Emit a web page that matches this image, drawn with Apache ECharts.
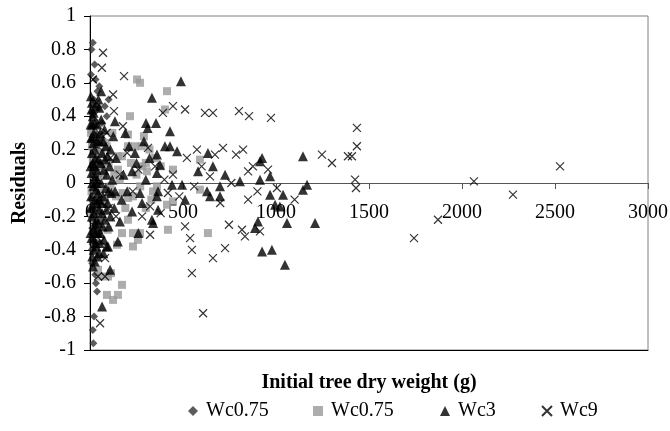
<!DOCTYPE html>
<html>
<head>
<meta charset="utf-8">
<script src="https://cdn.jsdelivr.net/npm/echarts@6/dist/echarts.min.js"></script>
<style>html,body{margin:0;padding:0;background:#fff}#c{width:670px;height:431px}</style>
</head>
<body>
<div id="c"></div>
<script>
const seriesNames = ['Wc0.75', 'Wc0.75', 'Wc3', 'Wc9'];
const xTicks = [0, 500, 1000, 1500, 2000, 2500, 3000];
const yTicks = [-1, -0.8, -0.6, -0.4, -0.2, 0, 0.2, 0.4, 0.6, 0.8, 1];

const diamondPts = [
  [15,0.84],[8,0.80],[25,0.71],[50,0.58],[40,0.55],[80,0.46],[65,0.36],[30,0.62],[20,0.50],[10,0.42],
  [35,0.30],[5,0.25],[45,0.20],[15,0.12],[55,0.05],[25,-0.02],[8,-0.10],[40,-0.15],[60,-0.22],[20,-0.28],
  [30,-0.35],[10,-0.40],[12,-0.48],[22,-0.38],[18,-0.96],[15,-0.88],[22,-0.80],[38,-0.65],[32,-0.60],[28,-0.55],
  [70,0.26],[90,0.40],[100,0.50],[45,0.45],[5,0.65],[75,-0.12],[50,-0.30],[60,0.10]
];
const squarePts = [
  [5,0.30],[10,0.22],[15,0.15],[20,0.05],[8,-0.05],[25,-0.12],[12,-0.20],[30,-0.25],[18,0.35],[40,0.10],
  [50,-0.05],[35,0.25],[60,0.18],[45,-0.18],[70,0.05],[80,-0.10],[90,0.22],[100,0.12],[110,-0.02],[120,0.30],
  [130,0.05],[95,-0.28],[140,-0.08],[150,0.16],[160,0.02],[175,-0.06],[11,0.32],[81,0.24],[150,0.08],
  [253,0.62],[269,0.60],[414,0.55],[403,0.44],[215,0.40],[204,0.29],[290,0.28],[204,0.22],[242,0.22],[277,0.22],
  [172,0.16],[306,0.07],[446,0.08],[591,0.14],[591,-0.04],[204,-0.09],[231,-0.08],[339,-0.05],[414,-0.13],[446,-0.11],
  [204,-0.22],[172,-0.30],[231,-0.30],[269,-0.30],[258,-0.34],[231,-0.38],[145,-0.37],[97,-0.56],[113,-0.54],[172,-0.61],
  [91,-0.67],[124,-0.70],[150,-0.67],[54,-0.56],[43,-0.52],[419,-0.28],[634,-0.30],
  [320,0.20],[350,0.15],[380,0.10],[300,0.12],[250,0.05],[270,-0.02],[360,-0.02],[300,-0.15],[330,-0.10],[220,0.12],
  [190,-0.15],[280,0.10]
];
const trianglePts = [
  [5,0.52],[10,0.48],[8,0.44],[15,0.40],[12,0.35],[20,0.30],[6,0.27],[18,0.24],[25,0.20],[10,0.18],
  [30,0.15],[14,0.12],[22,0.10],[35,0.08],[8,0.06],[28,0.04],[40,0.02],[12,0.00],[18,-0.02],[32,-0.04],
  [45,-0.06],[6,-0.08],[25,-0.10],[38,-0.12],[15,-0.14],[50,-0.16],[22,-0.18],[10,-0.20],[35,-0.22],[28,-0.25],
  [18,-0.28],[42,-0.30],[8,-0.33],[30,-0.36],[20,-0.40],[12,-0.44],[26,-0.47],
  [50,0.45],[60,0.38],[55,0.30],[70,0.25],[65,0.18],[80,0.14],[75,0.08],[90,0.05],[60,0.00],[85,-0.03],
  [70,-0.08],[95,-0.12],[65,-0.18],[80,-0.22],[100,-0.26],[55,-0.30],[75,-0.34],[90,-0.38],[48,-0.42],[60,0.55],
  [45,0.50],[110,0.20],[105,0.10],[120,0.02],[115,-0.06],[125,0.28],[130,-0.15],[110,-0.20],[140,0.15],[135,-0.05],
  [3,0.10],[3,-0.15],[3,0.35],[3,-0.30],[40,0.35],[35,-0.38],[50,0.25],[45,-0.24],[58,0.12],[62,-0.12],
  [20,0.42],[30,0.46],[25,0.36],[38,0.25],[15,0.28],[30,-0.30],[20,-0.34],[40,-0.44],[16,-0.50],[52,-0.36],
  [44,0.14],[48,-0.10],[34,0.00],[68,-0.26],[78,0.32],[85,0.22],[95,0.16],[100,-0.05],[88,-0.16],[72,-0.42],
  [134,0.37],[108,-0.52],[65,-0.74],[97,-0.38],[161,-0.23],[226,-0.17],[226,0.07],[242,0.18],
  [301,0.36],[310,0.33],[355,0.36],[430,0.31],[333,0.51],[489,0.61],[360,0.17],[403,0.22],[430,0.22],[468,0.19],
  [581,0.07],[634,0.18],[360,0.06],[376,0.11],[269,-0.06],[366,-0.05],[360,-0.08],[366,-0.16],[333,-0.22],[339,-0.24],
  [511,-0.10],[441,-0.01],[495,-0.01],[629,-0.05],[661,0.10],[726,0.05],[645,-0.08],[699,-0.02],[699,-0.08],[806,0.01],
  [925,0.15],[914,0.13],[914,0.02],[968,0.04],[968,-0.07],[1038,-0.07],[995,-0.13],[1021,-0.14],[903,-0.23],[887,-0.27],
  [1059,-0.24],[925,-0.41],[978,-0.40],[1048,-0.49],[1145,0.16],[1167,-0.01],[1145,-0.04],[1210,-0.24],
  [180,0.05],[200,-0.05],[250,0.12],[280,-0.12],[300,0.02],[320,0.15],[170,-0.10],[210,0.22],[260,-0.30],[290,0.25],
  [150,-0.35],[190,0.30]
];
const crossPts = [
  [70,0.78],[64,0.69],[16,0.62],[183,0.64],[124,0.53],[129,0.43],[177,0.34],[392,0.42],[446,0.46],[511,0.44],
  [312,0.21],[575,0.20],[521,0.15],[446,0.05],[618,0.42],[661,0.42],[801,0.43],[855,0.40],[973,0.39],[715,0.21],
  [672,0.17],[785,0.17],[823,0.20],[1247,0.17],[1301,0.12],[1387,0.16],[876,0.10],[850,0.07],[957,0.08],[1005,-0.03],
  [645,0.04],[850,-0.10],[747,-0.25],[817,-0.28],[833,-0.32],[914,-0.29],[726,-0.39],[661,-0.45],[608,-0.78],
  [323,-0.14],[323,-0.31],[511,-0.26],[538,-0.33],[548,-0.40],[548,-0.54],[81,-0.45],[43,-0.56],[81,-0.56],[54,-0.84],
  [419,-0.06],[1435,0.33],[1435,0.22],[1408,0.16],[1425,0.02],[1430,-0.03],[2064,0.01],[1871,-0.22],[1742,-0.33],
  [2527,0.10],[2274,-0.07],
  [20,0.40],[30,0.10],[40,-0.10],[15,-0.25],[50,0.28],[60,-0.35],[35,0.48],[90,0.30],[100,-0.15],[25,0.02],
  [110,0.15],[140,-0.20],[160,0.05],[200,0.18],[230,-0.05],[260,0.08],[280,-0.20],[350,0.10],[380,-0.18],[400,0.02],
  [480,-0.08],[560,-0.02],[600,0.10],[700,-0.12],[760,0.00],[900,-0.05],[1100,-0.10]
];

const FONT = 'Liberation Serif';
const crossSymbol = 'path://M0,0L10,10M10,0L0,10';
const seriesIds = ['Wc0.75a', 'Wc0.75b', 'Wc3', 'Wc9'];
const legendIcons = ['diamond', 'rect', 'triangle', crossSymbol];
const legendLefts = [183, 308, 435, 536];

function makeLegend(i) {
  return {
    left: legendLefts[i], top: 396, itemWidth: 10, itemHeight: 10,
    textStyle: {fontFamily: FONT, fontSize: 20, color: '#000', padding: [0, 0, 0, 3]},
    data: [{name: seriesIds[i], icon: legendIcons[i]}],
    formatter: function () { return seriesNames[i]; }
  };
}

const chart = echarts.init(document.getElementById('c'), null, {renderer: 'canvas'});
chart.setOption({
  animation: false,
  backgroundColor: '#ffffff',
  textStyle: {fontFamily: FONT, color: '#000'},
  grid: {left: 90, right: 22, top: 16, bottom: 81, show: true, borderColor: '#808080', borderWidth: 1,
         containLabel: false, outerBoundsMode: 'none'},
  legend: [makeLegend(0), makeLegend(1), makeLegend(2), makeLegend(3)],
  xAxis: [{
    type: 'value', position: 'bottom', offset: -167,
    min: xTicks[0], max: xTicks[xTicks.length - 1], interval: 500,
    axisLine: {onZero: false, lineStyle: {color: '#555', width: 1}},
    axisTick: {show: true, length: 6, lineStyle: {color: '#555'}},
    axisLabel: {margin: 20, fontFamily: FONT, fontSize: 20, color: '#000',
      formatter: function (v) { return String(v); }},
    splitLine: {show: false},
    name: 'Initial tree dry weight (g)', nameLocation: 'middle', nameGap: 190,
    nameTextStyle: {fontFamily: FONT, fontSize: 20, fontWeight: 'bold', color: '#000'}
  }, {
    type: 'value', position: 'bottom', min: 0, max: 3000,
    axisLine: {onZero: false, lineStyle: {color: '#000', width: 1}},
    axisTick: {show: false}, axisLabel: {show: false}, splitLine: {show: false}
  }],
  yAxis: {
    type: 'value', min: yTicks[0], max: yTicks[yTicks.length - 1], interval: 0.2,
    axisLine: {show: true, onZero: false, lineStyle: {color: '#000', width: 1}},
    axisTick: {show: true, length: 6, lineStyle: {color: '#000'}},
    axisLabel: {margin: 14, fontFamily: FONT, fontSize: 20, color: '#000',
      formatter: function (v) { return String(+v.toFixed(1)); }},
    splitLine: {show: false},
    name: 'Residuals', nameLocation: 'middle', nameGap: 60, nameRotate: 90,
    nameTextStyle: {fontFamily: FONT, fontSize: 20, fontWeight: 'bold', color: '#000'}
  },
  series: [
    {name: seriesIds[0], type: 'scatter', symbol: 'diamond', symbolSize: 8,
     itemStyle: {color: '#333333'}, data: diamondPts},
    {name: seriesIds[1], type: 'scatter', symbol: 'rect', symbolSize: 8,
     itemStyle: {color: '#999999'}, data: squarePts},
    {name: seriesIds[2], type: 'scatter', symbol: 'triangle', symbolSize: 10,
     itemStyle: {color: '#000000'}, data: trianglePts},
    {name: seriesIds[3], type: 'scatter', symbol: crossSymbol, symbolSize: 8,
     itemStyle: {color: 'rgba(0,0,0,0)', borderColor: '#000', borderWidth: 1.2}, data: crossPts}
  ]
});
</script>
</body>
</html>
